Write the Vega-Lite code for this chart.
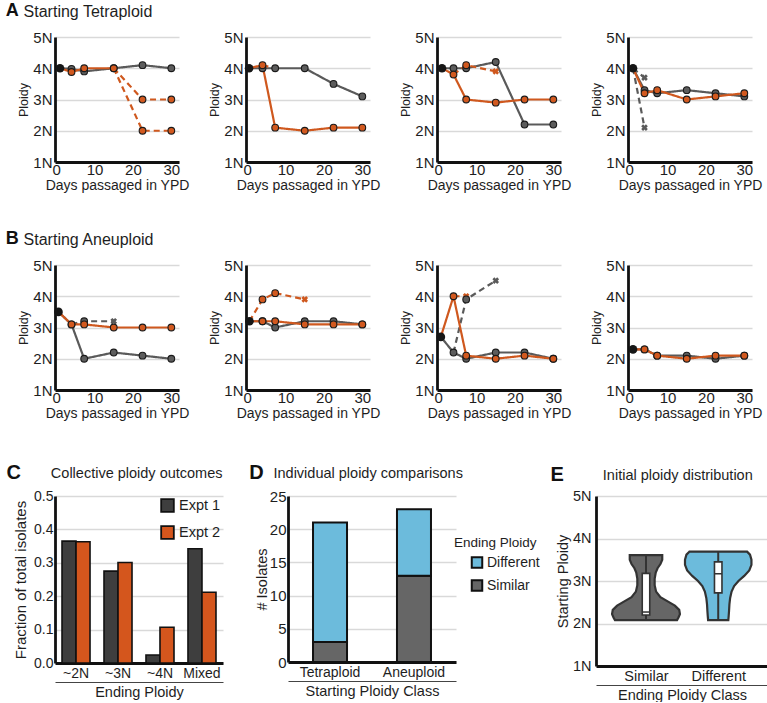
{
  "$schema": "https://vega.github.io/schema/vega-lite/v6.json",
  "padding": {"left": 5, "top": 2, "right": 0, "bottom": 0},
  "config": {
    "font": "Liberation Sans",
    "view": {"stroke": null},
    "axis": {"domainColor": "#111", "domainWidth": 2.8, "gridColor": "#d9d9d9", "gridWidth": 1.4, "ticks": false, "labelColor": "#1e1e1e", "titleColor": "#1e1e1e", "titleFontWeight": "normal", "labelFontSize": 14, "titleFontSize": 14, "labelPadding": 2, "labelFlush": false, "labelOverlap": false},
    "axisX": {"grid": false},
    "title": {"anchor": "start", "frame": "bounds", "fontWeight": "bold", "color": "#111", "subtitleColor": "#1e1e1e", "subtitleFontWeight": "normal"},
    "legend": {"labelColor": "#1e1e1e", "titleColor": "#1e1e1e"},
    "line": {"strokeWidth": 2.2},
    "point": {"opacity": 1}
  },
  "datasets": {
    "linesA": [
      {"p":"A1","s":"A1g","e":"Expt 1","sub":"main","day":1,"ploidy":4,"m":"s"},
      {"p":"A1","s":"A1g","e":"Expt 1","sub":"main","day":4,"ploidy":3.98,"m":"o"},
      {"p":"A1","s":"A1g","e":"Expt 1","sub":"main","day":7.3,"ploidy":3.9,"m":"o"},
      {"p":"A1","s":"A1g","e":"Expt 1","sub":"main","day":15,"ploidy":4,"m":"o"},
      {"p":"A1","s":"A1g","e":"Expt 1","sub":"main","day":22.5,"ploidy":4.1,"m":"o"},
      {"p":"A1","s":"A1g","e":"Expt 1","sub":"main","day":30,"ploidy":4,"m":"o"},
      {"p":"A1","s":"A1o","e":"Expt 2","sub":"main","day":1,"ploidy":4,"m":"n"},
      {"p":"A1","s":"A1o","e":"Expt 2","sub":"main","day":4,"ploidy":3.88,"m":"o"},
      {"p":"A1","s":"A1o","e":"Expt 2","sub":"main","day":7.3,"ploidy":4,"m":"o"},
      {"p":"A1","s":"A1o","e":"Expt 2","sub":"main","day":15,"ploidy":4,"m":"o"},
      {"p":"A1","s":"A1o2","e":"Expt 2","sub":"minor","day":15,"ploidy":4,"m":"n"},
      {"p":"A1","s":"A1o2","e":"Expt 2","sub":"minor","day":22.5,"ploidy":3,"m":"o"},
      {"p":"A1","s":"A1o2","e":"Expt 2","sub":"minor","day":30,"ploidy":3,"m":"o"},
      {"p":"A1","s":"A1o3","e":"Expt 2","sub":"minor","day":15,"ploidy":4,"m":"n"},
      {"p":"A1","s":"A1o3","e":"Expt 2","sub":"minor","day":22.5,"ploidy":2,"m":"o"},
      {"p":"A1","s":"A1o3","e":"Expt 2","sub":"minor","day":30,"ploidy":2,"m":"o"},
      {"p":"A2","s":"A2g","e":"Expt 1","sub":"main","day":0.5,"ploidy":4,"m":"s"},
      {"p":"A2","s":"A2g","e":"Expt 1","sub":"main","day":4,"ploidy":4,"m":"o"},
      {"p":"A2","s":"A2g","e":"Expt 1","sub":"main","day":7.3,"ploidy":4,"m":"o"},
      {"p":"A2","s":"A2g","e":"Expt 1","sub":"main","day":15,"ploidy":4,"m":"o"},
      {"p":"A2","s":"A2g","e":"Expt 1","sub":"main","day":22.5,"ploidy":3.5,"m":"o"},
      {"p":"A2","s":"A2g","e":"Expt 1","sub":"main","day":30,"ploidy":3.1,"m":"o"},
      {"p":"A2","s":"A2o","e":"Expt 2","sub":"main","day":0.5,"ploidy":4,"m":"n"},
      {"p":"A2","s":"A2o","e":"Expt 2","sub":"main","day":4,"ploidy":4.1,"m":"o"},
      {"p":"A2","s":"A2o","e":"Expt 2","sub":"main","day":7.3,"ploidy":2.1,"m":"o"},
      {"p":"A2","s":"A2o","e":"Expt 2","sub":"main","day":15,"ploidy":2,"m":"o"},
      {"p":"A2","s":"A2o","e":"Expt 2","sub":"main","day":22.5,"ploidy":2.1,"m":"o"},
      {"p":"A2","s":"A2o","e":"Expt 2","sub":"main","day":30,"ploidy":2.1,"m":"o"},
      {"p":"A2","s":"A2o2","e":"Expt 2","sub":"minor","day":4,"ploidy":4.1,"m":"n"},
      {"p":"A2","s":"A2o2","e":"Expt 2","sub":"minor","day":7.3,"ploidy":4,"m":"x"},
      {"p":"A3","s":"A3g","e":"Expt 1","sub":"main","day":1,"ploidy":4,"m":"s"},
      {"p":"A3","s":"A3g","e":"Expt 1","sub":"main","day":4,"ploidy":4,"m":"o"},
      {"p":"A3","s":"A3g","e":"Expt 1","sub":"main","day":7.3,"ploidy":4,"m":"o"},
      {"p":"A3","s":"A3g","e":"Expt 1","sub":"main","day":15,"ploidy":4.2,"m":"o"},
      {"p":"A3","s":"A3g","e":"Expt 1","sub":"main","day":22.5,"ploidy":2.2,"m":"o"},
      {"p":"A3","s":"A3g","e":"Expt 1","sub":"main","day":30,"ploidy":2.2,"m":"o"},
      {"p":"A3","s":"A3o","e":"Expt 2","sub":"main","day":1,"ploidy":4,"m":"n"},
      {"p":"A3","s":"A3o","e":"Expt 2","sub":"main","day":4,"ploidy":3.8,"m":"o"},
      {"p":"A3","s":"A3o","e":"Expt 2","sub":"main","day":7.3,"ploidy":3,"m":"o"},
      {"p":"A3","s":"A3o","e":"Expt 2","sub":"main","day":15,"ploidy":2.9,"m":"o"},
      {"p":"A3","s":"A3o","e":"Expt 2","sub":"main","day":22.5,"ploidy":3,"m":"o"},
      {"p":"A3","s":"A3o","e":"Expt 2","sub":"main","day":30,"ploidy":3,"m":"o"},
      {"p":"A3","s":"A3o2","e":"Expt 2","sub":"minor","day":4,"ploidy":3.8,"m":"n"},
      {"p":"A3","s":"A3o2","e":"Expt 2","sub":"minor","day":7.3,"ploidy":4.1,"m":"o"},
      {"p":"A3","s":"A3o2","e":"Expt 2","sub":"minor","day":15,"ploidy":3.9,"m":"x"},
      {"p":"A4","s":"A4g2","e":"Expt 1","sub":"minor","day":1,"ploidy":4,"m":"n"},
      {"p":"A4","s":"A4g2","e":"Expt 1","sub":"minor","day":4,"ploidy":3.7,"m":"x"},
      {"p":"A4","s":"A4g3","e":"Expt 1","sub":"minor","day":1,"ploidy":4,"m":"n"},
      {"p":"A4","s":"A4g3","e":"Expt 1","sub":"minor","day":4,"ploidy":2.1,"m":"x"},
      {"p":"A4","s":"A4g","e":"Expt 1","sub":"main","day":1,"ploidy":4,"m":"s"},
      {"p":"A4","s":"A4g","e":"Expt 1","sub":"main","day":4,"ploidy":3.3,"m":"o"},
      {"p":"A4","s":"A4g","e":"Expt 1","sub":"main","day":7.3,"ploidy":3.2,"m":"o"},
      {"p":"A4","s":"A4g","e":"Expt 1","sub":"main","day":15,"ploidy":3.3,"m":"o"},
      {"p":"A4","s":"A4g","e":"Expt 1","sub":"main","day":22.5,"ploidy":3.2,"m":"o"},
      {"p":"A4","s":"A4g","e":"Expt 1","sub":"main","day":30,"ploidy":3.1,"m":"o"},
      {"p":"A4","s":"A4o","e":"Expt 2","sub":"main","day":1,"ploidy":4,"m":"n"},
      {"p":"A4","s":"A4o","e":"Expt 2","sub":"main","day":4,"ploidy":3.2,"m":"o"},
      {"p":"A4","s":"A4o","e":"Expt 2","sub":"main","day":7.3,"ploidy":3.3,"m":"o"},
      {"p":"A4","s":"A4o","e":"Expt 2","sub":"main","day":15,"ploidy":3,"m":"o"},
      {"p":"A4","s":"A4o","e":"Expt 2","sub":"main","day":22.5,"ploidy":3.1,"m":"o"},
      {"p":"A4","s":"A4o","e":"Expt 2","sub":"main","day":30,"ploidy":3.2,"m":"o"}
    ],
    "linesB": [
      {"p":"B1","s":"B1g2","e":"Expt 1","sub":"minor","day":4,"ploidy":3.1,"m":"n"},
      {"p":"B1","s":"B1g2","e":"Expt 1","sub":"minor","day":7.3,"ploidy":3.2,"m":"o"},
      {"p":"B1","s":"B1g2","e":"Expt 1","sub":"minor","day":15,"ploidy":3.2,"m":"x"},
      {"p":"B1","s":"B1g","e":"Expt 1","sub":"main","day":0.6,"ploidy":3.5,"m":"s"},
      {"p":"B1","s":"B1g","e":"Expt 1","sub":"main","day":4,"ploidy":3.1,"m":"o"},
      {"p":"B1","s":"B1g","e":"Expt 1","sub":"main","day":7.3,"ploidy":2,"m":"o"},
      {"p":"B1","s":"B1g","e":"Expt 1","sub":"main","day":15,"ploidy":2.2,"m":"o"},
      {"p":"B1","s":"B1g","e":"Expt 1","sub":"main","day":22.5,"ploidy":2.1,"m":"o"},
      {"p":"B1","s":"B1g","e":"Expt 1","sub":"main","day":30,"ploidy":2,"m":"o"},
      {"p":"B1","s":"B1o","e":"Expt 2","sub":"main","day":0.6,"ploidy":3.5,"m":"n"},
      {"p":"B1","s":"B1o","e":"Expt 2","sub":"main","day":4,"ploidy":3.1,"m":"o"},
      {"p":"B1","s":"B1o","e":"Expt 2","sub":"main","day":7.3,"ploidy":3.1,"m":"o"},
      {"p":"B1","s":"B1o","e":"Expt 2","sub":"main","day":15,"ploidy":3,"m":"o"},
      {"p":"B1","s":"B1o","e":"Expt 2","sub":"main","day":22.5,"ploidy":3,"m":"o"},
      {"p":"B1","s":"B1o","e":"Expt 2","sub":"main","day":30,"ploidy":3,"m":"o"},
      {"p":"B2","s":"B2g","e":"Expt 1","sub":"main","day":0.6,"ploidy":3.2,"m":"s"},
      {"p":"B2","s":"B2g","e":"Expt 1","sub":"main","day":4,"ploidy":3.2,"m":"o"},
      {"p":"B2","s":"B2g","e":"Expt 1","sub":"main","day":7.3,"ploidy":3,"m":"o"},
      {"p":"B2","s":"B2g","e":"Expt 1","sub":"main","day":15,"ploidy":3.2,"m":"o"},
      {"p":"B2","s":"B2g","e":"Expt 1","sub":"main","day":22.5,"ploidy":3.2,"m":"o"},
      {"p":"B2","s":"B2g","e":"Expt 1","sub":"main","day":30,"ploidy":3.1,"m":"o"},
      {"p":"B2","s":"B2o2","e":"Expt 2","sub":"minor","day":0.6,"ploidy":3.2,"m":"n"},
      {"p":"B2","s":"B2o2","e":"Expt 2","sub":"minor","day":4,"ploidy":3.9,"m":"o"},
      {"p":"B2","s":"B2o2","e":"Expt 2","sub":"minor","day":7.3,"ploidy":4.1,"m":"o"},
      {"p":"B2","s":"B2o2","e":"Expt 2","sub":"minor","day":15,"ploidy":3.9,"m":"x"},
      {"p":"B2","s":"B2o","e":"Expt 2","sub":"main","day":0.6,"ploidy":3.2,"m":"n"},
      {"p":"B2","s":"B2o","e":"Expt 2","sub":"main","day":4,"ploidy":3.2,"m":"o"},
      {"p":"B2","s":"B2o","e":"Expt 2","sub":"main","day":7.3,"ploidy":3.2,"m":"o"},
      {"p":"B2","s":"B2o","e":"Expt 2","sub":"main","day":15,"ploidy":3.1,"m":"o"},
      {"p":"B2","s":"B2o","e":"Expt 2","sub":"main","day":22.5,"ploidy":3.1,"m":"o"},
      {"p":"B2","s":"B2o","e":"Expt 2","sub":"main","day":30,"ploidy":3.1,"m":"o"},
      {"p":"B3","s":"B3g2","e":"Expt 1","sub":"minor","day":4,"ploidy":2.2,"m":"n"},
      {"p":"B3","s":"B3g2","e":"Expt 1","sub":"minor","day":7.3,"ploidy":3.9,"m":"o"},
      {"p":"B3","s":"B3g2","e":"Expt 1","sub":"minor","day":15,"ploidy":4.5,"m":"x"},
      {"p":"B3","s":"B3g","e":"Expt 1","sub":"main","day":0.7,"ploidy":2.7,"m":"s"},
      {"p":"B3","s":"B3g","e":"Expt 1","sub":"main","day":4,"ploidy":2.2,"m":"o"},
      {"p":"B3","s":"B3g","e":"Expt 1","sub":"main","day":7.3,"ploidy":2,"m":"o"},
      {"p":"B3","s":"B3g","e":"Expt 1","sub":"main","day":15,"ploidy":2.2,"m":"o"},
      {"p":"B3","s":"B3g","e":"Expt 1","sub":"main","day":22.5,"ploidy":2.2,"m":"o"},
      {"p":"B3","s":"B3g","e":"Expt 1","sub":"main","day":30,"ploidy":2,"m":"o"},
      {"p":"B3","s":"B3o2","e":"Expt 2","sub":"minor","day":4,"ploidy":4,"m":"n"},
      {"p":"B3","s":"B3o2","e":"Expt 2","sub":"minor","day":7.3,"ploidy":4,"m":"x"},
      {"p":"B3","s":"B3o","e":"Expt 2","sub":"main","day":0.7,"ploidy":2.7,"m":"n"},
      {"p":"B3","s":"B3o","e":"Expt 2","sub":"main","day":4,"ploidy":4,"m":"o"},
      {"p":"B3","s":"B3o","e":"Expt 2","sub":"main","day":7.3,"ploidy":2.1,"m":"o"},
      {"p":"B3","s":"B3o","e":"Expt 2","sub":"main","day":15,"ploidy":2,"m":"o"},
      {"p":"B3","s":"B3o","e":"Expt 2","sub":"main","day":22.5,"ploidy":2.1,"m":"o"},
      {"p":"B3","s":"B3o","e":"Expt 2","sub":"main","day":30,"ploidy":2,"m":"o"},
      {"p":"B4","s":"B4g","e":"Expt 1","sub":"main","day":1,"ploidy":2.3,"m":"s"},
      {"p":"B4","s":"B4g","e":"Expt 1","sub":"main","day":4,"ploidy":2.3,"m":"o"},
      {"p":"B4","s":"B4g","e":"Expt 1","sub":"main","day":7.3,"ploidy":2.1,"m":"o"},
      {"p":"B4","s":"B4g","e":"Expt 1","sub":"main","day":15,"ploidy":2.1,"m":"o"},
      {"p":"B4","s":"B4g","e":"Expt 1","sub":"main","day":22.5,"ploidy":2,"m":"o"},
      {"p":"B4","s":"B4g","e":"Expt 1","sub":"main","day":30,"ploidy":2.1,"m":"o"},
      {"p":"B4","s":"B4o","e":"Expt 2","sub":"main","day":1,"ploidy":2.3,"m":"n"},
      {"p":"B4","s":"B4o","e":"Expt 2","sub":"main","day":4,"ploidy":2.3,"m":"o"},
      {"p":"B4","s":"B4o","e":"Expt 2","sub":"main","day":7.3,"ploidy":2.1,"m":"o"},
      {"p":"B4","s":"B4o","e":"Expt 2","sub":"main","day":15,"ploidy":2,"m":"o"},
      {"p":"B4","s":"B4o","e":"Expt 2","sub":"main","day":22.5,"ploidy":2.1,"m":"o"},
      {"p":"B4","s":"B4o","e":"Expt 2","sub":"main","day":30,"ploidy":2.1,"m":"o"}
    ],
    "collective": [
      {"ending":"~2N","expt":"Expt 1","fraction":0.365},
      {"ending":"~2N","expt":"Expt 2","fraction":0.363},
      {"ending":"~3N","expt":"Expt 1","fraction":0.275},
      {"ending":"~3N","expt":"Expt 2","fraction":0.301},
      {"ending":"~4N","expt":"Expt 1","fraction":0.024},
      {"ending":"~4N","expt":"Expt 2","fraction":0.107},
      {"ending":"Mixed","expt":"Expt 1","fraction":0.342},
      {"ending":"Mixed","expt":"Expt 2","fraction":0.212}
    ],
    "individual": [
      {"start":"Tetraploid","end":"Similar","n":3},
      {"start":"Tetraploid","end":"Different","n":18},
      {"start":"Aneuploid","end":"Similar","n":13},
      {"start":"Aneuploid","end":"Different","n":10}
    ],
    "violin": [
      {"cls":"Similar","ploidy":3.61,"lo":0.775,"hi":1.225},
      {"cls":"Similar","ploidy":3.5,"lo":0.775,"hi":1.225},
      {"cls":"Similar","ploidy":3.4,"lo":0.8,"hi":1.2},
      {"cls":"Similar","ploidy":3.3,"lo":0.84,"hi":1.16},
      {"cls":"Similar","ploidy":3.2,"lo":0.865,"hi":1.135},
      {"cls":"Similar","ploidy":3.05,"lo":0.88,"hi":1.12},
      {"cls":"Similar","ploidy":2.9,"lo":0.88,"hi":1.12},
      {"cls":"Similar","ploidy":2.75,"lo":0.86,"hi":1.14},
      {"cls":"Similar","ploidy":2.62,"lo":0.8,"hi":1.2},
      {"cls":"Similar","ploidy":2.52,"lo":0.7,"hi":1.3},
      {"cls":"Similar","ploidy":2.42,"lo":0.6,"hi":1.4},
      {"cls":"Similar","ploidy":2.32,"lo":0.54,"hi":1.46},
      {"cls":"Similar","ploidy":2.22,"lo":0.53,"hi":1.47},
      {"cls":"Similar","ploidy":2.14,"lo":0.55,"hi":1.45},
      {"cls":"Similar","ploidy":2.08,"lo":0.57,"hi":1.43},
      {"cls":"Different","ploidy":3.69,"lo":1.6,"hi":2.4},
      {"cls":"Different","ploidy":3.62,"lo":1.56,"hi":2.44},
      {"cls":"Different","ploidy":3.5,"lo":1.54,"hi":2.46},
      {"cls":"Different","ploidy":3.38,"lo":1.54,"hi":2.46},
      {"cls":"Different","ploidy":3.25,"lo":1.57,"hi":2.43},
      {"cls":"Different","ploidy":3.12,"lo":1.64,"hi":2.36},
      {"cls":"Different","ploidy":3.0,"lo":1.72,"hi":2.28},
      {"cls":"Different","ploidy":2.88,"lo":1.78,"hi":2.22},
      {"cls":"Different","ploidy":2.75,"lo":1.815,"hi":2.185},
      {"cls":"Different","ploidy":2.6,"lo":1.835,"hi":2.165},
      {"cls":"Different","ploidy":2.45,"lo":1.845,"hi":2.155},
      {"cls":"Different","ploidy":2.3,"lo":1.85,"hi":2.15},
      {"cls":"Different","ploidy":2.18,"lo":1.855,"hi":2.145},
      {"cls":"Different","ploidy":2.08,"lo":1.86,"hi":2.14}
    ],
    "box": [
      {"cls":"Similar","c":1,"wlo":2.08,"whi":3.61,"q1":2.2,"q3":3.18,"med":2.27},
      {"cls":"Different","c":2,"wlo":2.08,"whi":3.69,"q1":2.72,"q3":3.45,"med":3.17}
    ]
  },
  "resolve": {"scale": {"color": "independent", "fill": "independent", "strokeDash": "independent"}},
  "spacing": 43,
  "vconcat": [
    {
      "spacing": 38,
      "resolve": {"scale": {"color": "independent", "fill": "independent", "strokeDash": "independent"}},
      "vconcat": [
        {
          "title": {"text": "A", "subtitle": "\u200b\u00a0\u00a0\u00a0\u00a0Starting Tetraploid", "fontSize": 18, "subtitleFontSize": 16, "subtitlePadding": -16.4, "dx": -12, "offset": 10},
          "data": {"name": "linesA"},
          "spacing": 19,
          "hconcat": [
            {"transform": [{"filter": "datum.p == 'A1'"}], "width": 124, "height": 125,
             "encoding": {
               "x": {"field": "day", "type": "quantitative", "scale": {"domain": [-0.3, 32], "nice": false, "zero": false}, "axis": {"values": [0, 10, 20, 30], "title": "Days passaged in YPD", "titleFontSize": 14, "labelFontSize": 15, "labelPadding": 0, "titlePadding": 1}},
               "y": {"field": "ploidy", "type": "quantitative", "scale": {"domain": [1, 5], "nice": false, "zero": false}, "axis": {"values": [1, 2, 3, 4, 5], "labelExpr": "datum.value + 'N'", "title": "Ploidy", "titleFontSize": 12.5, "labelFontSize": 15, "grid": true, "labelPadding": 3, "titlePadding": 2}}
             },
             "layer": [
               {"mark": "line", "encoding": {"detail": {"field": "s", "type": "nominal"}, "color": {"field": "e", "type": "nominal", "scale": {"domain": ["Expt 1", "Expt 2"], "range": ["#5a5a5a", "#cf581e"]}, "legend": null}, "strokeDash": {"field": "sub", "type": "nominal", "scale": {"domain": ["main", "minor"], "range": [[1, 0], [6, 4]]}, "legend": null}}},
               {"transform": [{"filter": "datum.m == 'x'"}], "mark": {"type": "point", "shape": "cross", "angle": 45, "filled": true, "size": 45}, "encoding": {"color": {"field": "e", "type": "nominal", "legend": null}}},
               {"transform": [{"filter": "datum.m == 'o'"}], "mark": {"type": "point", "shape": "circle", "filled": true, "size": 45, "stroke": "#1a1a1a", "strokeWidth": 1.1}, "encoding": {"fill": {"field": "e", "type": "nominal", "scale": {"domain": ["Expt 1", "Expt 2"], "range": ["#5c5c5c", "#d2591f"]}, "legend": null}}},
               {"transform": [{"filter": "datum.m == 's'"}], "mark": {"type": "point", "shape": "circle", "filled": true, "size": 75, "color": "#161616"}}
             ]},
            {"transform": [{"filter": "datum.p == 'A2'"}], "width": 124, "height": 125,
             "encoding": {
               "x": {"field": "day", "type": "quantitative", "scale": {"domain": [-0.3, 32], "nice": false, "zero": false}, "axis": {"values": [0, 10, 20, 30], "title": "Days passaged in YPD", "titleFontSize": 14, "labelFontSize": 15, "labelPadding": 0, "titlePadding": 1}},
               "y": {"field": "ploidy", "type": "quantitative", "scale": {"domain": [1, 5], "nice": false, "zero": false}, "axis": {"values": [1, 2, 3, 4, 5], "labelExpr": "datum.value + 'N'", "title": "Ploidy", "titleFontSize": 12.5, "labelFontSize": 15, "grid": true, "labelPadding": 3, "titlePadding": 2}}
             },
             "layer": [
               {"mark": "line", "encoding": {"detail": {"field": "s", "type": "nominal"}, "color": {"field": "e", "type": "nominal", "scale": {"domain": ["Expt 1", "Expt 2"], "range": ["#5a5a5a", "#cf581e"]}, "legend": null}, "strokeDash": {"field": "sub", "type": "nominal", "scale": {"domain": ["main", "minor"], "range": [[1, 0], [6, 4]]}, "legend": null}}},
               {"transform": [{"filter": "datum.m == 'x'"}], "mark": {"type": "point", "shape": "cross", "angle": 45, "filled": true, "size": 45}, "encoding": {"color": {"field": "e", "type": "nominal", "legend": null}}},
               {"transform": [{"filter": "datum.m == 'o'"}], "mark": {"type": "point", "shape": "circle", "filled": true, "size": 45, "stroke": "#1a1a1a", "strokeWidth": 1.1}, "encoding": {"fill": {"field": "e", "type": "nominal", "scale": {"domain": ["Expt 1", "Expt 2"], "range": ["#5c5c5c", "#d2591f"]}, "legend": null}}},
               {"transform": [{"filter": "datum.m == 's'"}], "mark": {"type": "point", "shape": "circle", "filled": true, "size": 75, "color": "#161616"}}
             ]},
            {"transform": [{"filter": "datum.p == 'A3'"}], "width": 124, "height": 125,
             "encoding": {
               "x": {"field": "day", "type": "quantitative", "scale": {"domain": [-0.3, 32], "nice": false, "zero": false}, "axis": {"values": [0, 10, 20, 30], "title": "Days passaged in YPD", "titleFontSize": 14, "labelFontSize": 15, "labelPadding": 0, "titlePadding": 1}},
               "y": {"field": "ploidy", "type": "quantitative", "scale": {"domain": [1, 5], "nice": false, "zero": false}, "axis": {"values": [1, 2, 3, 4, 5], "labelExpr": "datum.value + 'N'", "title": "Ploidy", "titleFontSize": 12.5, "labelFontSize": 15, "grid": true, "labelPadding": 3, "titlePadding": 2}}
             },
             "layer": [
               {"mark": "line", "encoding": {"detail": {"field": "s", "type": "nominal"}, "color": {"field": "e", "type": "nominal", "scale": {"domain": ["Expt 1", "Expt 2"], "range": ["#5a5a5a", "#cf581e"]}, "legend": null}, "strokeDash": {"field": "sub", "type": "nominal", "scale": {"domain": ["main", "minor"], "range": [[1, 0], [6, 4]]}, "legend": null}}},
               {"transform": [{"filter": "datum.m == 'x'"}], "mark": {"type": "point", "shape": "cross", "angle": 45, "filled": true, "size": 45}, "encoding": {"color": {"field": "e", "type": "nominal", "legend": null}}},
               {"transform": [{"filter": "datum.m == 'o'"}], "mark": {"type": "point", "shape": "circle", "filled": true, "size": 45, "stroke": "#1a1a1a", "strokeWidth": 1.1}, "encoding": {"fill": {"field": "e", "type": "nominal", "scale": {"domain": ["Expt 1", "Expt 2"], "range": ["#5c5c5c", "#d2591f"]}, "legend": null}}},
               {"transform": [{"filter": "datum.m == 's'"}], "mark": {"type": "point", "shape": "circle", "filled": true, "size": 75, "color": "#161616"}}
             ]},
            {"transform": [{"filter": "datum.p == 'A4'"}], "width": 124, "height": 125,
             "encoding": {
               "x": {"field": "day", "type": "quantitative", "scale": {"domain": [-0.3, 32], "nice": false, "zero": false}, "axis": {"values": [0, 10, 20, 30], "title": "Days passaged in YPD", "titleFontSize": 14, "labelFontSize": 15, "labelPadding": 0, "titlePadding": 1}},
               "y": {"field": "ploidy", "type": "quantitative", "scale": {"domain": [1, 5], "nice": false, "zero": false}, "axis": {"values": [1, 2, 3, 4, 5], "labelExpr": "datum.value + 'N'", "title": "Ploidy", "titleFontSize": 12.5, "labelFontSize": 15, "grid": true, "labelPadding": 3, "titlePadding": 2}}
             },
             "layer": [
               {"mark": "line", "encoding": {"detail": {"field": "s", "type": "nominal"}, "color": {"field": "e", "type": "nominal", "scale": {"domain": ["Expt 1", "Expt 2"], "range": ["#5a5a5a", "#cf581e"]}, "legend": null}, "strokeDash": {"field": "sub", "type": "nominal", "scale": {"domain": ["main", "minor"], "range": [[1, 0], [6, 4]]}, "legend": null}}},
               {"transform": [{"filter": "datum.m == 'x'"}], "mark": {"type": "point", "shape": "cross", "angle": 45, "filled": true, "size": 45}, "encoding": {"color": {"field": "e", "type": "nominal", "legend": null}}},
               {"transform": [{"filter": "datum.m == 'o'"}], "mark": {"type": "point", "shape": "circle", "filled": true, "size": 45, "stroke": "#1a1a1a", "strokeWidth": 1.1}, "encoding": {"fill": {"field": "e", "type": "nominal", "scale": {"domain": ["Expt 1", "Expt 2"], "range": ["#5c5c5c", "#d2591f"]}, "legend": null}}},
               {"transform": [{"filter": "datum.m == 's'"}], "mark": {"type": "point", "shape": "circle", "filled": true, "size": 75, "color": "#161616"}}
             ]}
          ]
        },
        {
          "title": {"text": "B", "subtitle": "\u200b\u00a0\u00a0\u00a0\u00a0Starting Aneuploid", "fontSize": 18, "subtitleFontSize": 16, "subtitlePadding": -16.4, "dx": -12, "offset": 10},
          "data": {"name": "linesB"},
          "spacing": 19,
          "hconcat": [
            {"transform": [{"filter": "datum.p == 'B1'"}], "width": 124, "height": 125,
             "encoding": {
               "x": {"field": "day", "type": "quantitative", "scale": {"domain": [-0.3, 32], "nice": false, "zero": false}, "axis": {"values": [0, 10, 20, 30], "title": "Days passaged in YPD", "titleFontSize": 14, "labelFontSize": 15, "labelPadding": 0, "titlePadding": 1}},
               "y": {"field": "ploidy", "type": "quantitative", "scale": {"domain": [1, 5], "nice": false, "zero": false}, "axis": {"values": [1, 2, 3, 4, 5], "labelExpr": "datum.value + 'N'", "title": "Ploidy", "titleFontSize": 12.5, "labelFontSize": 15, "grid": true, "labelPadding": 3, "titlePadding": 2}}
             },
             "layer": [
               {"mark": "line", "encoding": {"detail": {"field": "s", "type": "nominal"}, "color": {"field": "e", "type": "nominal", "scale": {"domain": ["Expt 1", "Expt 2"], "range": ["#5a5a5a", "#cf581e"]}, "legend": null}, "strokeDash": {"field": "sub", "type": "nominal", "scale": {"domain": ["main", "minor"], "range": [[1, 0], [6, 4]]}, "legend": null}}},
               {"transform": [{"filter": "datum.m == 'x'"}], "mark": {"type": "point", "shape": "cross", "angle": 45, "filled": true, "size": 45}, "encoding": {"color": {"field": "e", "type": "nominal", "legend": null}}},
               {"transform": [{"filter": "datum.m == 'o'"}], "mark": {"type": "point", "shape": "circle", "filled": true, "size": 45, "stroke": "#1a1a1a", "strokeWidth": 1.1}, "encoding": {"fill": {"field": "e", "type": "nominal", "scale": {"domain": ["Expt 1", "Expt 2"], "range": ["#5c5c5c", "#d2591f"]}, "legend": null}}},
               {"transform": [{"filter": "datum.m == 's'"}], "mark": {"type": "point", "shape": "circle", "filled": true, "size": 75, "color": "#161616"}}
             ]},
            {"transform": [{"filter": "datum.p == 'B2'"}], "width": 124, "height": 125,
             "encoding": {
               "x": {"field": "day", "type": "quantitative", "scale": {"domain": [-0.3, 32], "nice": false, "zero": false}, "axis": {"values": [0, 10, 20, 30], "title": "Days passaged in YPD", "titleFontSize": 14, "labelFontSize": 15, "labelPadding": 0, "titlePadding": 1}},
               "y": {"field": "ploidy", "type": "quantitative", "scale": {"domain": [1, 5], "nice": false, "zero": false}, "axis": {"values": [1, 2, 3, 4, 5], "labelExpr": "datum.value + 'N'", "title": "Ploidy", "titleFontSize": 12.5, "labelFontSize": 15, "grid": true, "labelPadding": 3, "titlePadding": 2}}
             },
             "layer": [
               {"mark": "line", "encoding": {"detail": {"field": "s", "type": "nominal"}, "color": {"field": "e", "type": "nominal", "scale": {"domain": ["Expt 1", "Expt 2"], "range": ["#5a5a5a", "#cf581e"]}, "legend": null}, "strokeDash": {"field": "sub", "type": "nominal", "scale": {"domain": ["main", "minor"], "range": [[1, 0], [6, 4]]}, "legend": null}}},
               {"transform": [{"filter": "datum.m == 'x'"}], "mark": {"type": "point", "shape": "cross", "angle": 45, "filled": true, "size": 45}, "encoding": {"color": {"field": "e", "type": "nominal", "legend": null}}},
               {"transform": [{"filter": "datum.m == 'o'"}], "mark": {"type": "point", "shape": "circle", "filled": true, "size": 45, "stroke": "#1a1a1a", "strokeWidth": 1.1}, "encoding": {"fill": {"field": "e", "type": "nominal", "scale": {"domain": ["Expt 1", "Expt 2"], "range": ["#5c5c5c", "#d2591f"]}, "legend": null}}},
               {"transform": [{"filter": "datum.m == 's'"}], "mark": {"type": "point", "shape": "circle", "filled": true, "size": 75, "color": "#161616"}}
             ]},
            {"transform": [{"filter": "datum.p == 'B3'"}], "width": 124, "height": 125,
             "encoding": {
               "x": {"field": "day", "type": "quantitative", "scale": {"domain": [-0.3, 32], "nice": false, "zero": false}, "axis": {"values": [0, 10, 20, 30], "title": "Days passaged in YPD", "titleFontSize": 14, "labelFontSize": 15, "labelPadding": 0, "titlePadding": 1}},
               "y": {"field": "ploidy", "type": "quantitative", "scale": {"domain": [1, 5], "nice": false, "zero": false}, "axis": {"values": [1, 2, 3, 4, 5], "labelExpr": "datum.value + 'N'", "title": "Ploidy", "titleFontSize": 12.5, "labelFontSize": 15, "grid": true, "labelPadding": 3, "titlePadding": 2}}
             },
             "layer": [
               {"mark": "line", "encoding": {"detail": {"field": "s", "type": "nominal"}, "color": {"field": "e", "type": "nominal", "scale": {"domain": ["Expt 1", "Expt 2"], "range": ["#5a5a5a", "#cf581e"]}, "legend": null}, "strokeDash": {"field": "sub", "type": "nominal", "scale": {"domain": ["main", "minor"], "range": [[1, 0], [6, 4]]}, "legend": null}}},
               {"transform": [{"filter": "datum.m == 'x'"}], "mark": {"type": "point", "shape": "cross", "angle": 45, "filled": true, "size": 45}, "encoding": {"color": {"field": "e", "type": "nominal", "legend": null}}},
               {"transform": [{"filter": "datum.m == 'o'"}], "mark": {"type": "point", "shape": "circle", "filled": true, "size": 45, "stroke": "#1a1a1a", "strokeWidth": 1.1}, "encoding": {"fill": {"field": "e", "type": "nominal", "scale": {"domain": ["Expt 1", "Expt 2"], "range": ["#5c5c5c", "#d2591f"]}, "legend": null}}},
               {"transform": [{"filter": "datum.m == 's'"}], "mark": {"type": "point", "shape": "circle", "filled": true, "size": 75, "color": "#161616"}}
             ]},
            {"transform": [{"filter": "datum.p == 'B4'"}], "width": 124, "height": 125,
             "encoding": {
               "x": {"field": "day", "type": "quantitative", "scale": {"domain": [-0.3, 32], "nice": false, "zero": false}, "axis": {"values": [0, 10, 20, 30], "title": "Days passaged in YPD", "titleFontSize": 14, "labelFontSize": 15, "labelPadding": 0, "titlePadding": 1}},
               "y": {"field": "ploidy", "type": "quantitative", "scale": {"domain": [1, 5], "nice": false, "zero": false}, "axis": {"values": [1, 2, 3, 4, 5], "labelExpr": "datum.value + 'N'", "title": "Ploidy", "titleFontSize": 12.5, "labelFontSize": 15, "grid": true, "labelPadding": 3, "titlePadding": 2}}
             },
             "layer": [
               {"mark": "line", "encoding": {"detail": {"field": "s", "type": "nominal"}, "color": {"field": "e", "type": "nominal", "scale": {"domain": ["Expt 1", "Expt 2"], "range": ["#5a5a5a", "#cf581e"]}, "legend": null}, "strokeDash": {"field": "sub", "type": "nominal", "scale": {"domain": ["main", "minor"], "range": [[1, 0], [6, 4]]}, "legend": null}}},
               {"transform": [{"filter": "datum.m == 'x'"}], "mark": {"type": "point", "shape": "cross", "angle": 45, "filled": true, "size": 45}, "encoding": {"color": {"field": "e", "type": "nominal", "legend": null}}},
               {"transform": [{"filter": "datum.m == 'o'"}], "mark": {"type": "point", "shape": "circle", "filled": true, "size": 45, "stroke": "#1a1a1a", "strokeWidth": 1.1}, "encoding": {"fill": {"field": "e", "type": "nominal", "scale": {"domain": ["Expt 1", "Expt 2"], "range": ["#5c5c5c", "#d2591f"]}, "legend": null}}},
               {"transform": [{"filter": "datum.m == 's'"}], "mark": {"type": "point", "shape": "circle", "filled": true, "size": 75, "color": "#161616"}}
             ]}
          ]
        }
      ]
    },
    {
      "spacing": 26,
      "resolve": {"scale": {"color": "independent", "fill": "independent"}},
      "hconcat": [
        {
          "title": {"text": "C", "subtitle": "\u200b\u00a0\u00a0\u00a0\u00a0\u00a0\u00a0\u00a0\u00a0\u00a0\u00a0\u00a0Collective ploidy outcomes", "fontSize": 20, "subtitleFontSize": 14.5, "subtitlePadding": -15.7, "dx": -7, "offset": 6},
          "data": {"name": "collective"},
          "width": 168, "height": 167,
          "resolve": {"scale": {"x": "independent"}},
          "layer": [
            {"mark": {"type": "bar", "stroke": "#111", "strokeWidth": 1.6},
             "encoding": {
               "x": {"field": "ending", "type": "nominal", "sort": ["~2N", "~3N", "~4N", "Mixed"], "scale": {"paddingInner": 0.333, "paddingOuter": 0.167}, "axis": {"title": null, "labelAngle": 0, "labelPadding": 3, "labelFontSize": 14}},
               "xOffset": {"field": "expt", "type": "nominal"},
               "y": {"field": "fraction", "type": "quantitative", "scale": {"domain": [0, 0.5], "nice": false}, "axis": {"values": [0, 0.1, 0.2, 0.3, 0.4, 0.5], "format": ".1f", "title": "Fraction of total isolates", "titleFontSize": 15, "labelFontSize": 14, "grid": true, "labelPadding": 2, "titlePadding": 5}},
               "color": {"field": "expt", "type": "nominal", "scale": {"domain": ["Expt 1", "Expt 2"], "range": ["#3e3e3e", "#d4561d"]},
                 "legend": {"orient": "top-right", "offset": 2, "title": null, "symbolType": "square", "symbolSize": 160, "symbolStrokeColor": "#111", "symbolStrokeWidth": 1.8, "labelFontSize": 14.5, "rowPadding": 6, "padding": 0, "labelOffset": 4}}
             }},
            {"mark": {"type": "bar", "opacity": 0},
             "encoding": {
               "x": {"field": "ending", "type": "nominal", "sort": ["~2N", "~3N", "~4N", "Mixed"], "axis": {"orient": "bottom", "offset": 19, "labels": false, "domainWidth": 1.2, "domainColor": "#444", "title": "Ending Ploidy", "titlePadding": 3, "titleFontSize": 14.5}}
             }}
          ]
        },
        {
          "spacing": 10,
          "resolve": {"scale": {"color": "independent", "fill": "independent"}},
          "hconcat": [
            {
              "title": {"text": "D", "subtitle": "\u200b\u00a0\u00a0\u00a0\u00a0\u00a0\u00a0Individual ploidy comparisons", "fontSize": 20, "subtitleFontSize": 14.5, "subtitlePadding": -15.7, "dx": -5, "offset": 6},
              "data": {"name": "individual"},
              "width": 168, "height": 166,
              "resolve": {"scale": {"x": "independent"}},
              "layer": [
                {"mark": {"type": "bar", "stroke": "#111", "strokeWidth": 2},
                 "encoding": {
                   "x": {"field": "start", "type": "nominal", "sort": ["Tetraploid", "Aneuploid"], "scale": {"paddingInner": 0.595, "paddingOuter": 0.298}, "axis": {"title": null, "labelAngle": 0, "labelPadding": 3, "labelFontSize": 14}},
                   "y": {"field": "n", "type": "quantitative", "scale": {"domain": [0, 25], "nice": false}, "axis": {"values": [0, 5, 10, 15, 20, 25], "title": "# Isolates", "titleFontSize": 14.5, "labelFontSize": 15, "grid": true, "labelPadding": 2, "titlePadding": 0}},
                   "color": {"field": "end", "type": "nominal", "scale": {"domain": ["Different", "Similar"], "range": ["#6cbbdc", "#666666"]},
                     "legend": {"orient": "none", "legendX": 166, "legendY": 40, "padding": 0, "title": "Ending Ploidy", "titleFontSize": 13.5, "titleFontWeight": "normal", "labelFontSize": 14, "symbolType": "square", "symbolSize": 110, "symbolStrokeColor": "#111", "symbolStrokeWidth": 2, "symbolOffset": 16, "rowPadding": 3, "titlePadding": 6, "labelOffset": 3}}
                 }},
                {"mark": {"type": "bar", "opacity": 0},
                 "encoding": {
                   "x": {"field": "start", "type": "nominal", "sort": ["Tetraploid", "Aneuploid"], "axis": {"orient": "bottom", "offset": 19, "labels": false, "domainWidth": 1.2, "domainColor": "#444", "title": "Starting Ploidy Class", "titlePadding": 3, "titleFontSize": 14.5}}
                 }}
              ]
            },
            {
              "title": {"text": "E", "subtitle": "\u200b\u00a0\u00a0\u00a0\u00a0\u00a0\u00a0\u00a0\u00a0\u00a0\u00a0\u00a0\u00a0\u00a0Initial ploidy distribution", "fontSize": 20, "subtitleFontSize": 14.5, "subtitlePadding": -15.7, "dx": -5, "offset": 3},
              "width": 172, "height": 170,
              "resolve": {"scale": {"x": "independent"}},
              "layer": [
                {
                  "encoding": {
                    "y": {"type": "quantitative", "scale": {"domain": [1, 5], "nice": false, "zero": false}, "axis": {"values": [1, 2, 3, 4, 5], "labelExpr": "datum.value + 'N'", "title": "Starting Ploidy", "titleFontSize": 14.5, "labelFontSize": 14.5, "grid": true, "labelPadding": 5, "titlePadding": 2}}
                  },
                  "layer": [
                    {"data": {"name": "violin"},
                     "mark": {"type": "area", "orient": "horizontal", "stroke": "#333", "strokeWidth": 2.2, "opacity": 1},
                     "encoding": {
                       "y": {"field": "ploidy", "type": "quantitative"},
                       "x": {"field": "lo", "type": "quantitative", "scale": {"domain": [0.377, 2.62], "nice": false, "zero": false}, "axis": {"values": [1, 2], "labelExpr": "datum.value == 1 ? 'Similar' : 'Different'", "title": null, "labelFontSize": 14.5, "labelPadding": 3}},
                       "x2": {"field": "hi"},
                       "color": {"field": "cls", "type": "nominal", "scale": {"domain": ["Similar", "Different"], "range": ["#666666", "#6cbbdc"]}, "legend": null},
                       "detail": {"field": "cls"}
                     }},
                    {"data": {"name": "box"},
                     "mark": {"type": "rule", "color": "#333", "strokeWidth": 2},
                     "encoding": {"x": {"field": "c", "type": "quantitative"}, "y": {"field": "wlo", "type": "quantitative"}, "y2": {"field": "whi"}}},
                    {"data": {"name": "box"},
                     "mark": {"type": "bar", "size": 7.5, "fill": "#ffffff", "stroke": "#333", "strokeWidth": 1.6},
                     "encoding": {"x": {"field": "c", "type": "quantitative"}, "y": {"field": "q1", "type": "quantitative"}, "y2": {"field": "q3"}}},
                    {"data": {"name": "box"},
                     "mark": {"type": "tick", "orient": "horizontal", "size": 7.5, "thickness": 1.5, "color": "#333", "opacity": 1},
                     "encoding": {"x": {"field": "c", "type": "quantitative"}, "y": {"field": "med", "type": "quantitative"}}}
                  ]
                },
                {"data": {"name": "box"},
                 "mark": {"type": "rule", "opacity": 0},
                 "encoding": {
                   "x": {"field": "c", "type": "quantitative", "scale": {"domain": [0.377, 2.62], "nice": false, "zero": false}, "axis": {"orient": "bottom", "offset": 19, "labels": false, "domainWidth": 1.2, "domainColor": "#444", "title": "Ending Ploidy Class", "titlePadding": 3, "titleFontSize": 14.5}}
                 }}
              ]
            }
          ]
        }
      ]
    }
  ]
}
